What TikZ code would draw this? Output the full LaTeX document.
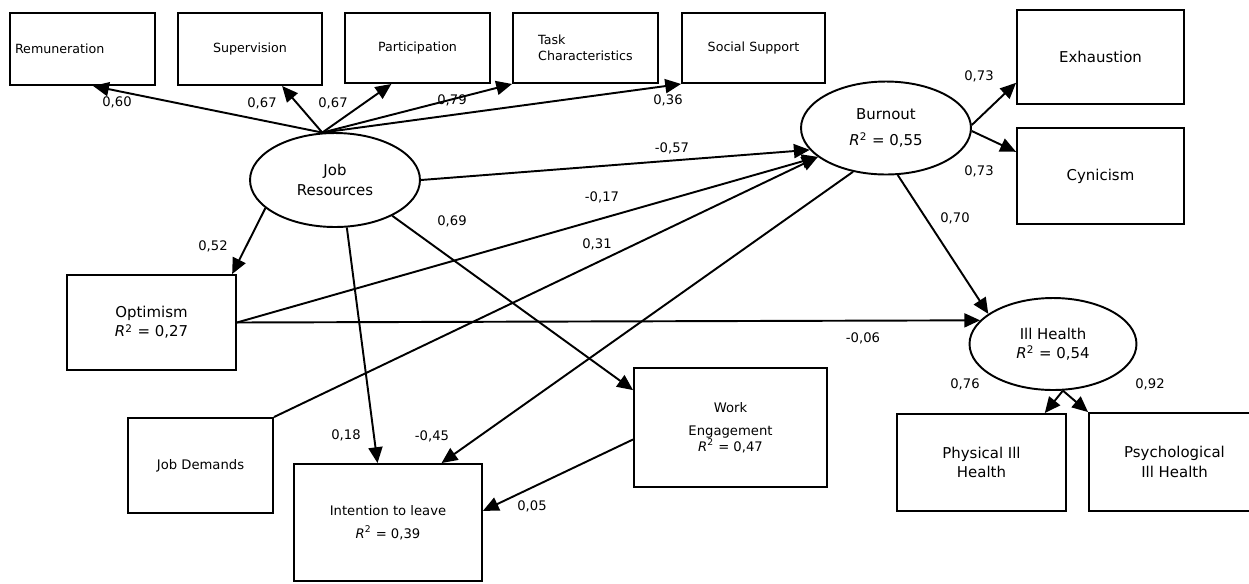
\documentclass[tikz,border=0pt]{standalone}
\usepackage{fontspec}
\setmainfont{DejaVu Sans}
\usetikzlibrary{shapes.geometric, arrows.meta}
\newcommand{\rtwo}[1]{{\itshape R}\textsuperscript{2} = #1}
\tikzset{
  obs/.style={draw, rectangle, line width=1.1pt, inner sep=0pt, align=center, font=\fontsize{8.5}{11}\selectfont},
  topobs/.style={obs, font=\fontsize{7.2}{9}\selectfont},
  lat/.style={draw, ellipse, line width=1.1pt, inner sep=0pt, align=center, font=\fontsize{8.5}{11}\selectfont},
  link/.style={-{Triangle[length=9pt,width=8pt]}, line width=1.1pt},
  wt/.style={font=\fontsize{7.5}{9}\selectfont, inner sep=0pt}
}

\begin{document}
\begin{tikzpicture}[x=0.02cm, y=-0.02cm]
\useasboundingbox (0,0) rectangle (1249,583);
% Resource indicators (top row)
\node[topobs, minimum width=2.90cm, minimum height=1.44cm, text width=2.70cm, align=left] (rem) at (82.5,49) {Remuneration};
\node[topobs, minimum width=2.88cm, minimum height=1.44cm] (sup) at (250,49) {Supervision};
\node[topobs, minimum width=2.90cm, minimum height=1.40cm] (par) at (417.5,48) {Participation};
\node[topobs, minimum width=2.90cm, minimum height=1.40cm, align=left] (task) at (585.5,48) {Task\\Characteristics};
\node[topobs, minimum width=2.86cm, minimum height=1.40cm] (soc) at (753.5,48) {Social Support};
% Latent variables
\node[lat, minimum width=3.40cm, minimum height=1.88cm] (jr) at (335,180) {Job\\Resources};
\node[lat, minimum width=3.40cm, minimum height=1.86cm] (burn) at (886,128) {Burnout\\[4pt]\rtwo{0,55}};
\node[lat, minimum width=3.34cm, minimum height=1.84cm] (ill) at (1053,344) {Ill Health\\\rtwo{0,54}};
% Burnout indicators
\node[obs, minimum width=3.34cm, minimum height=1.88cm] (exh) at (1100.5,57) {Exhaustion};
\node[obs, minimum width=3.34cm, minimum height=1.92cm] (cyn) at (1100.5,176) {Cynicism};
% Other constructs
\node[obs, minimum width=3.38cm, minimum height=1.90cm] (opt) at (151.5,322.5) {Optimism\\\rtwo{0,27}};
\node[obs, minimum width=2.90cm, minimum height=1.90cm, font=\fontsize{7.5}{10}\selectfont] (jd) at (200.5,465.5) {Job Demands};
\node[obs, minimum width=3.76cm, minimum height=2.34cm, font=\fontsize{7.5}{10}\selectfont] (itl) at (388,522.5) {Intention to leave\\[3pt]\rtwo{0,39}};
\node[obs, minimum width=3.86cm, minimum height=2.38cm, font=\fontsize{7.5}{10}\selectfont] (we) at (730.5,427.5) {Work\\[3pt]Engagement\\[-1pt]\rtwo{0,47}};
% Ill health indicators
\node[obs, minimum width=3.38cm, minimum height=1.94cm] (phys) at (981.5,462.5) {Physical Ill\\Health};
\node[obs, minimum width=3.42cm, minimum height=1.96cm] (psy) at (1174.5,462) {Psychological\\Ill Health};
% Job resources loadings
\draw[link] (jr.105) -- (rem.-74);
\draw[link] (jr.105) -- (sup.-49);
\draw[link] (jr.105) -- (par.-126);
\draw[link] (jr.105) -- (task.south west);
\draw[link] (jr.105) -- (soc.south west);
% Structural paths
\draw[link] (jr.east) -- (burn.-164);
\draw[link] (opt.east) -- (burn.-157);
\draw[link] (jd.north east) -- (burn.-157);
\draw[link] (burn.-127) -- (itl.48);
\draw[link] (opt.east) -- (ill.162);
\draw[link] (burn.-76) -- (ill.155);
\draw[link] (jr.-158) -- (opt.31);
\draw[link] (jr.-76) -- (itl.100);
\draw[link] (jr.-32) -- (we.159);
\draw[link] (we.-173) -- (itl.7);
% Indicator loadings
\draw[link] (burn.2) -- (exh.-163);
\draw[link] (burn.-2) -- (cyn.164);
\draw[link] (ill.-78) -- (phys.38);
\draw[link] (ill.-78) -- (psy.north west);
% Path weights
\node[wt] (w-rem) at (117,102) {0,60};
\node[wt] (w-sup) at (262,103) {0,67};
\node[wt] (w-par) at (333,103) {0,67};
\node[wt] (w-task) at (452,100) {0,79};
\node[wt] (w-soc) at (668,100) {0,36};
\node[wt] (w-jrburn) at (672,148) {-0,57};
\node[wt] (w-optburn) at (602,197) {-0,17};
\node[wt] (w-jrwe) at (452,221) {0,69};
\node[wt] (w-jdburn) at (597,244) {0,31};
\node[wt] (w-jropt) at (213,246) {0,52};
\node[wt] (w-exh) at (979,76) {0,73};
\node[wt] (w-cyn) at (979,171) {0,73};
\node[wt] (w-burnill) at (955,218) {0,70};
\node[wt] (w-optill) at (863,338) {-0,06};
\node[wt] (w-jritl) at (346,435) {0,18};
\node[wt] (w-burnitl) at (432,436) {-0,45};
\node[wt] (w-weitl) at (532,506) {0,05};
\node[wt] (w-phys) at (965,384) {0,76};
\node[wt] (w-psy) at (1150,384) {0,92};
\end{tikzpicture}
\end{document}
